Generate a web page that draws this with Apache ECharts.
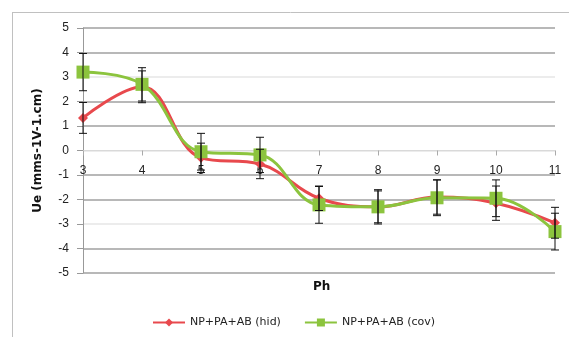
<!DOCTYPE html>
<html><head><meta charset="utf-8">
<script src="https://cdn.jsdelivr.net/npm/echarts@6/dist/echarts.min.js"></script>
<style>html,body{margin:0;padding:0;background:#fff}#c{width:569px;height:337px}</style>
</head><body><div id="c"></div>
<script>
const categories = ['3','4','5','6','7','8','9','10','11'];
const hidValues = [1.33, 2.6, -0.3, -0.55, -1.95, -2.3, -1.9, -2.15, -2.95];
const hidErr    = [0.63, 0.65, 0.6, 0.6, 0.5, 0.65, 0.7, 0.7, 0.63];
const covValues = [3.2, 2.7, -0.05, -0.18, -2.22, -2.3, -1.93, -1.95, -3.31];
const covErr    = [0.76, 0.68, 0.75, 0.72, 0.75, 0.7, 0.73, 0.75, 0.75];
const hidName = 'NP+PA+AB (hid)';
const covName = 'NP+PA+AB (cov)';
const yTitle = 'Ue (mms-1V-1.cm)';
const xTitle = 'Ph';

function errData(vals, errs){ return vals.map((v,i)=>[i, v-errs[i], v+errs[i]]); }
function renderErr(params, api){
  const lo = api.coord([api.value(0), api.value(1)]);
  const hi = api.coord([api.value(0), api.value(2)]);
  const w = 4;
  const st = {stroke:'#111', lineWidth:1};
  return {type:'group', children:[
    {type:'line', shape:{x1:lo[0],y1:lo[1],x2:hi[0],y2:hi[1]}, style:st},
    {type:'line', shape:{x1:lo[0]-w,y1:lo[1],x2:lo[0]+w,y2:lo[1]}, style:st},
    {type:'line', shape:{x1:hi[0]-w,y1:hi[1],x2:hi[0]+w,y2:hi[1]}, style:st}
  ]};
}
const red = '#e8494d', green = '#8cc43e';
const chart = echarts.init(document.getElementById('c'), null, {renderer:'canvas'});
chart.setOption({
  animation:false,
  textStyle:{fontFamily:'Liberation Sans, Arial, sans-serif'},
  grid:{left:83, right:14, top:28, bottom:64},
  title:{text:xTitle, left:308, top:276, textStyle:{fontSize:12, fontWeight:'bold', color:'#111', fontFamily:'DejaVu Sans'}},
  legend:{bottom:4, left:147, itemWidth:32, itemHeight:10, itemGap:23,
    textStyle:{fontSize:11, color:'#222', fontFamily:'DejaVu Sans'},
    data:[hidName, covName]},
  xAxis:{type:'category', data:categories, boundaryGap:false, position:'bottom', offset:-122.5,
    axisLine:{onZero:false, lineStyle:{color:'#d9d9d9', width:1}},
    axisTick:{show:true, inside:false, length:5, lineStyle:{color:'#aaa'}},
    axisLabel:{margin:14, fontSize:12, color:'#222'},
    splitLine:{show:false}},
  yAxis:{type:'value', min:-5, max:5, interval:1,
    name:yTitle, nameLocation:'middle', nameGap:39, nameRotate:90,
    nameTextStyle:{fontSize:12, fontWeight:'bold', color:'#111', fontFamily:'DejaVu Sans'},
    axisLine:{show:true, lineStyle:{color:'#999'}},
    axisTick:{show:true, length:6, lineStyle:{color:'#999'}},
    axisLabel:{margin:14, fontSize:12, color:'#222'},
    splitLine:{show:true, lineStyle:{color:['#a0a0a0','#a0a0a0','#e6e6e6'], width:1.5}}},
  graphic:[
    {type:'line', shape:{x1:12,y1:12.5,x2:569,y2:12.5}, style:{stroke:'#c0c0c0', lineWidth:1}},
    {type:'line', shape:{x1:12.5,y1:12,x2:12.5,y2:337}, style:{stroke:'#c0c0c0', lineWidth:1}}
  ],
  series:[
    {name:hidName, type:'line', data:hidValues, smooth:0.4, symbol:'diamond', symbolSize:10,
      lineStyle:{color:red, width:3}, itemStyle:{color:red}, z:3},
    {name:covName, type:'line', data:covValues, smooth:0.4, symbol:'rect', symbolSize:13,
      lineStyle:{color:green, width:3}, itemStyle:{color:green}, z:4},
    {type:'custom', renderItem:renderErr, data:errData(hidValues, hidErr), z:5, silent:true},
    {type:'custom', renderItem:renderErr, data:errData(covValues, covErr), z:5, silent:true}
  ]
});
</script></body></html>
